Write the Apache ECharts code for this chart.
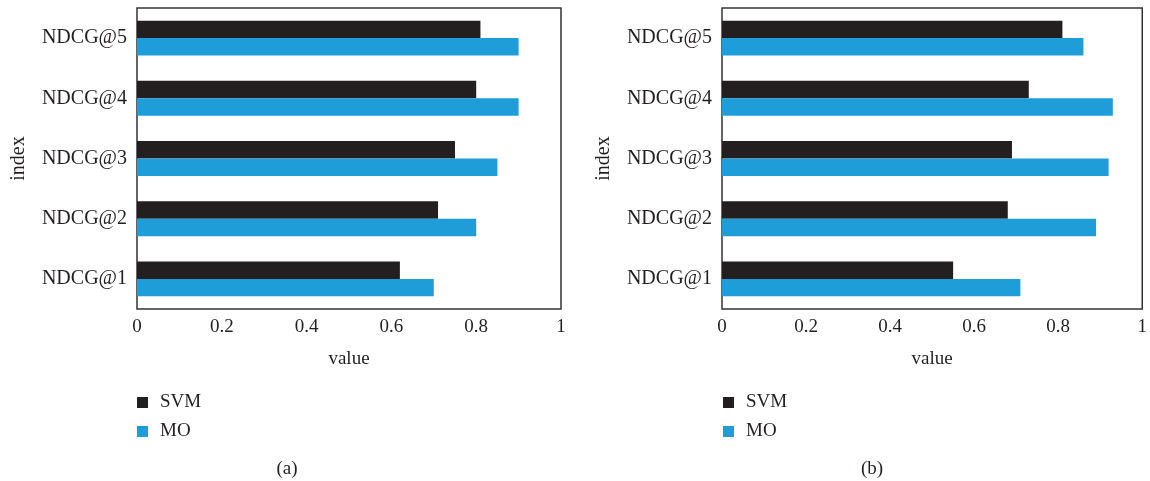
<!DOCTYPE html>
<html>
<head>
<meta charset="utf-8">
<script src="https://cdn.jsdelivr.net/npm/echarts@6/dist/echarts.min.js"></script>
<style>
  html, body { margin: 0; padding: 0; background: #fff; }
  #chart { width: 1150px; height: 481px; }
</style>
</head>
<body>
<div id="chart"></div>
<script>
// categories, bottom to top
var categories = ['NDCG@1', 'NDCG@2', 'NDCG@3', 'NDCG@4', 'NDCG@5'];
var xTicks = [0, 0.2, 0.4, 0.6, 0.8, 1];
// panel (a)
var svmA = [0.62, 0.71, 0.75, 0.80, 0.81];
var moA = [0.70, 0.80, 0.85, 0.90, 0.90];
// panel (b)
var svmB = [0.55, 0.68, 0.69, 0.73, 0.81];
var moB = [0.71, 0.89, 0.92, 0.93, 0.86];

var colors = ['#231f20', '#1e9dd8'];
var font = 'Liberation Serif';
var ink = '#231f20';

function xAxisFor(gi) {
    return {
        gridIndex: gi,
        type: 'value',
        min: xTicks[0],
        max: xTicks[xTicks.length - 1],
        interval: 0.2,
        name: 'value',
        nameLocation: 'middle',
        nameGap: 41,
        nameTextStyle: { fontFamily: font, fontSize: 19, color: ink },
        axisLine: { show: false },
        axisTick: { show: false },
        splitLine: { show: false },
        axisLabel: { margin: 9, fontFamily: font, fontSize: 19, color: ink }
    };
}
function yAxisFor(gi) {
    return {
        gridIndex: gi,
        type: 'category',
        data: categories,
        name: 'index',
        nameLocation: 'middle',
        nameGap: 108,
        nameTextStyle: { fontFamily: font, fontSize: 20, color: ink },
        axisLine: { show: false },
        axisTick: { show: false },
        axisLabel: { margin: 10, fontFamily: font, fontSize: 20, color: ink }
    };
}
function bars(name, data, gi, color) {
    return {
        name: name,
        type: 'bar',
        xAxisIndex: gi,
        yAxisIndex: gi,
        data: data,
        barGap: '0%',
        barCategoryGap: '42%',
        itemStyle: { color: color },
        emphasis: { disabled: true }
    };
}
function legendAt(x) {
    return {
        data: ['SVM', 'MO'], orient: 'vertical', left: x, top: 393, padding: 0,
        itemWidth: 11, itemHeight: 11, itemGap: 10, icon: 'rect',
        textStyle: { fontFamily: font, fontSize: 19, color: ink, padding: [0, 0, 0, 7] }
    };
}

var myChart = echarts.init(document.getElementById('chart'));
myChart.setOption({
    animation: false,
    color: colors,
    grid: [
        { left: 137, top: 8, width: 424, height: 301, show: true, borderColor: '#333', borderWidth: 1.5, backgroundColor: 'transparent' },
        { left: 722, top: 8, width: 424, height: 301, show: true, borderColor: '#333', borderWidth: 1.5, backgroundColor: 'transparent' }
    ],
    title: [
        { text: '(a)', left: 287, top: 460, padding: 0, textAlign: 'center', textStyle: { fontFamily: font, fontSize: 19, fontWeight: 'normal', color: ink } },
        { text: '(b)', left: 872, top: 460, padding: 0, textAlign: 'center', textStyle: { fontFamily: font, fontSize: 19, fontWeight: 'normal', color: ink } }
    ],
    legend: [legendAt(137), legendAt(723)],
    xAxis: [xAxisFor(0), xAxisFor(1)],
    yAxis: [yAxisFor(0), yAxisFor(1)],
    series: [
        bars('SVM', svmA, 0, colors[0]),
        bars('MO', moA, 0, colors[1]),
        bars('SVM', svmB, 1, colors[0]),
        bars('MO', moB, 1, colors[1])
    ]
});
</script>
</body>
</html>
